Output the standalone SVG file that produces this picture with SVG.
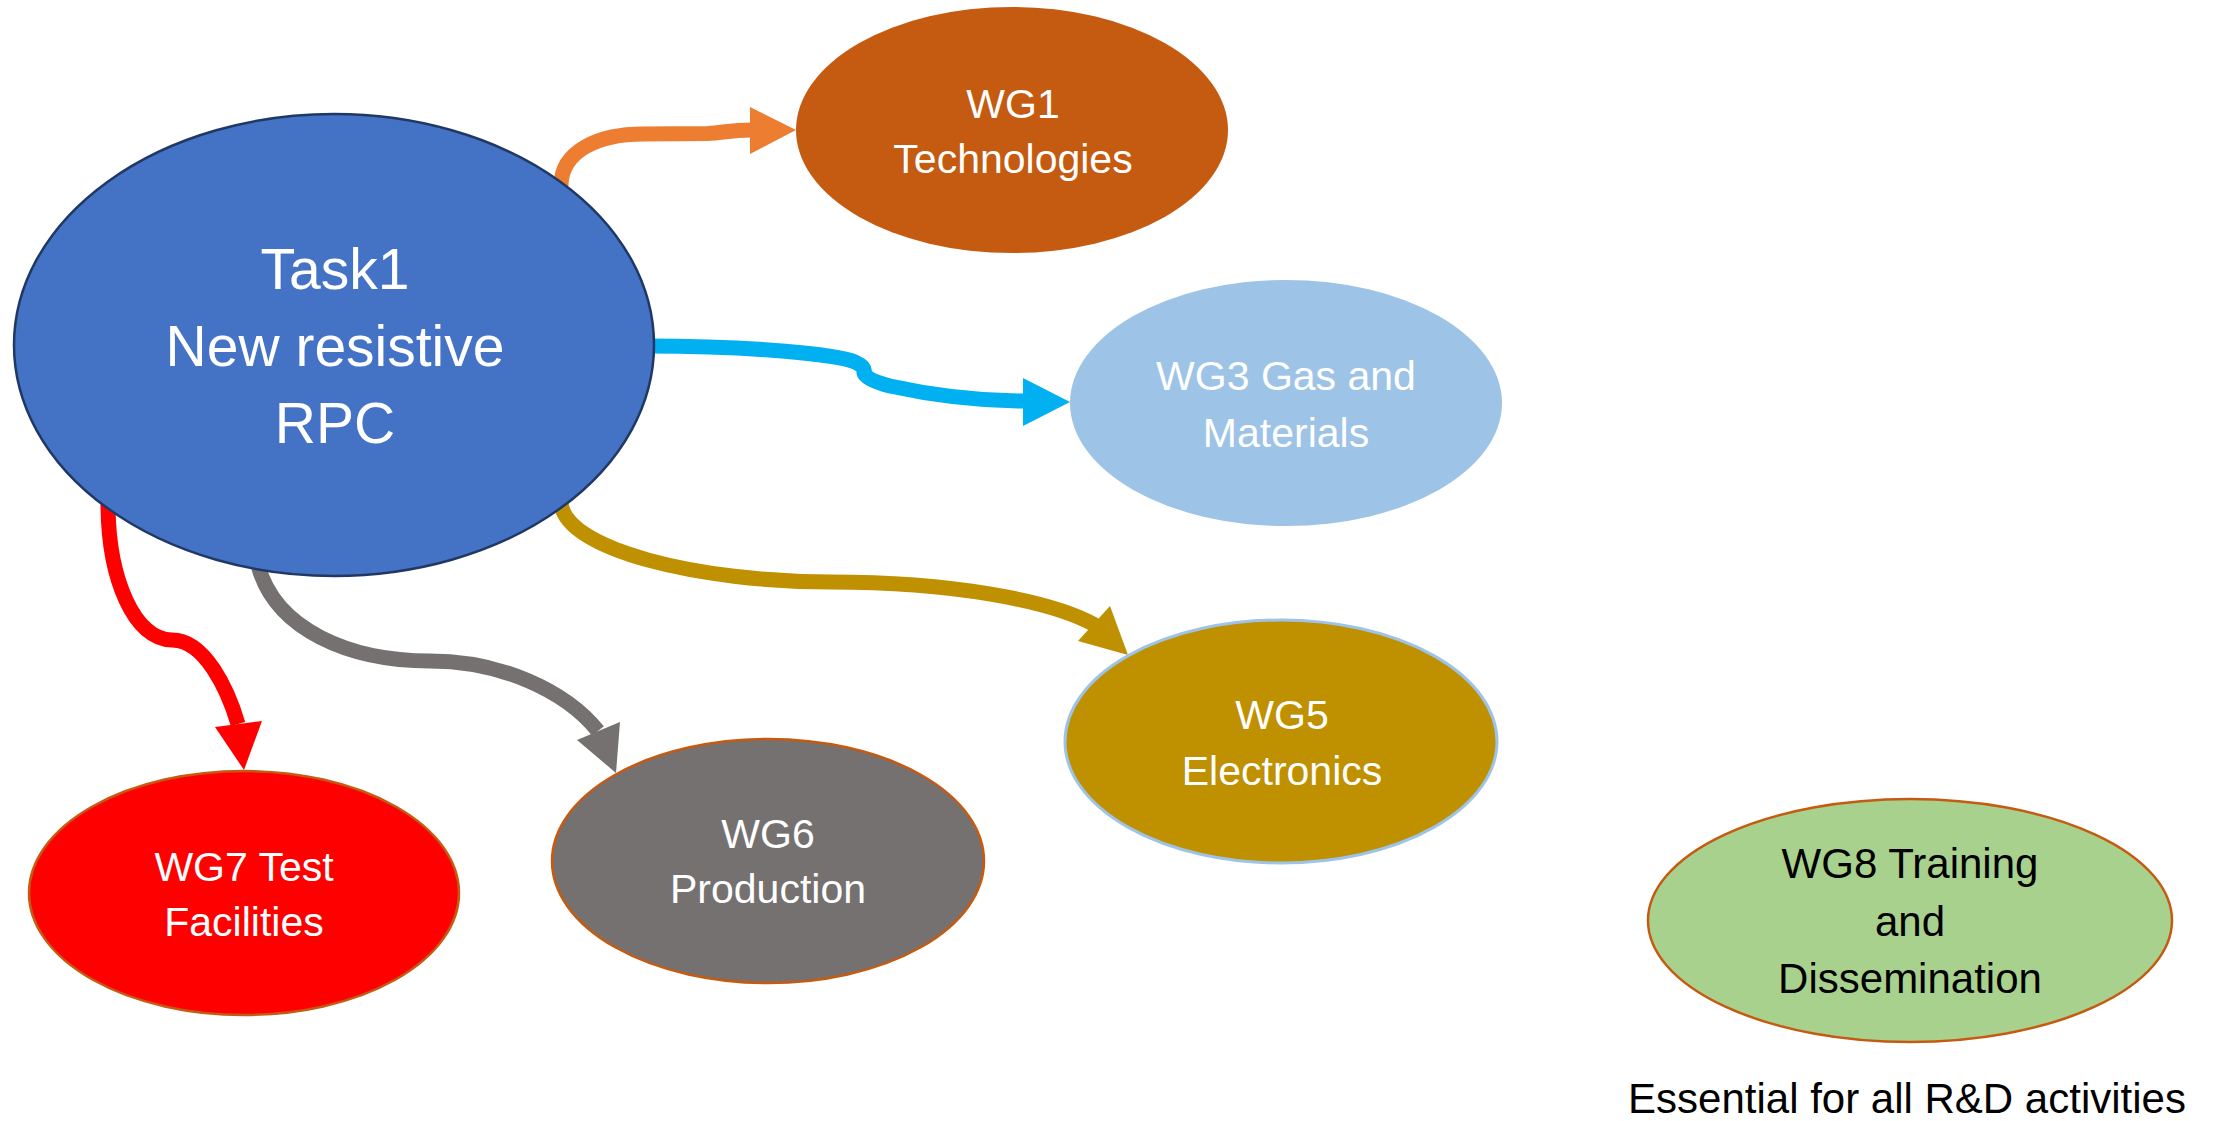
<svg xmlns="http://www.w3.org/2000/svg" width="2214" height="1121" viewBox="0 0 2214 1121">
<style>
.lbl{font-family:"Liberation Sans",Arial,sans-serif;text-anchor:middle;fill:#ffffff}
.wg{font-size:41px}
.dark{fill:#000000}
.conn{fill:none;stroke-width:15;stroke-linecap:butt;stroke-linejoin:round}
</style>
<rect x="0" y="0" width="2214" height="1121" fill="#ffffff"/>
<g id="connectors">
  <path class="conn" stroke="#ED7D31" d="M 561 186 C 561 150, 600 134, 643 134 L 708 133.5 C 722 133, 730 130, 752 130"/>
  <polygon fill="#ED7D31" points="750,107 796,130 750,154"/>
  <path class="conn" stroke="#00B0F0" d="M 648 346 C 750 346, 835 354, 855 362 Q 866 367, 864 373 Q 866 380, 890 386 C 940 397, 990 401, 1025 401"/>
  <polygon fill="#00B0F0" points="1023,378 1070,402 1023,426"/>
  <path class="conn" stroke="#BF9000" d="M 561 503 C 565 550, 700 582, 831 582 C 950 582, 1050 600, 1095 625"/>
  <polygon fill="#BF9000" points="1110,606 1128,655 1078,641"/>
  <path class="conn" stroke="#FF0000" d="M 108 503 C 108 580, 135 640, 172 640 C 205 640, 228 690, 238 724"/>
  <polygon fill="#FF0000" points="215,727 262,721 244,770"/>
  <path class="conn" stroke="#767171" d="M 258 565 C 275 630, 350 661, 430 661 C 500 661, 565 690, 598 731"/>
  <polygon fill="#767171" points="577,740 620,722 616,773"/>
</g>
<g id="task1">
  <ellipse cx="334" cy="345" rx="320" ry="231" fill="#4472C4" stroke="#203864" stroke-width="2.5"/>
  <text class="lbl" font-size="57" x="335" y="289">Task1</text>
  <text class="lbl" font-size="57" x="335" y="366">New resistive</text>
  <text class="lbl" font-size="57" x="335" y="443">RPC</text>
</g>
<g id="wg1">
  <ellipse cx="1012" cy="130" rx="216" ry="123" fill="#C55A11"/>
  <text class="lbl wg" x="1013" y="118">WG1</text>
  <text class="lbl wg" x="1013" y="173">Technologies</text>
</g>
<g id="wg3">
  <ellipse cx="1286" cy="403" rx="216" ry="123" fill="#9DC3E6"/>
  <text class="lbl wg" x="1286" y="390">WG3 Gas and</text>
  <text class="lbl wg" x="1286" y="447">Materials</text>
</g>
<g id="wg5">
  <ellipse cx="1281" cy="741.5" rx="216" ry="121.5" fill="#BF9000" stroke="#9DC3E6" stroke-width="3"/>
  <text class="lbl wg" x="1282" y="729">WG5</text>
  <text class="lbl wg" x="1282" y="785">Electronics</text>
</g>
<g id="wg6">
  <ellipse cx="768" cy="861" rx="216" ry="122" fill="#767171" stroke="#C55A11" stroke-width="2.5"/>
  <text class="lbl wg" x="768" y="848">WG6</text>
  <text class="lbl wg" x="768" y="903">Production</text>
</g>
<g id="wg7">
  <ellipse cx="244" cy="893" rx="215" ry="122" fill="#FF0000" stroke="#C55A11" stroke-width="2.5"/>
  <text class="lbl wg" x="244" y="881">WG7 Test</text>
  <text class="lbl wg" x="244" y="936">Facilities</text>
</g>
<g id="wg8">
  <ellipse cx="1910" cy="920.5" rx="262" ry="121.5" fill="#A9D18E" stroke="#C55A11" stroke-width="2.5"/>
  <text class="lbl dark" font-size="42" x="1910" y="878">WG8 Training</text>
  <text class="lbl dark" font-size="42" x="1910" y="936">and</text>
  <text class="lbl dark" font-size="42" x="1910" y="993">Dissemination</text>
</g>
<g id="note">
  <text class="lbl dark" font-size="42" x="1907" y="1113">Essential for all R&amp;D activities</text>
</g>
</svg>
